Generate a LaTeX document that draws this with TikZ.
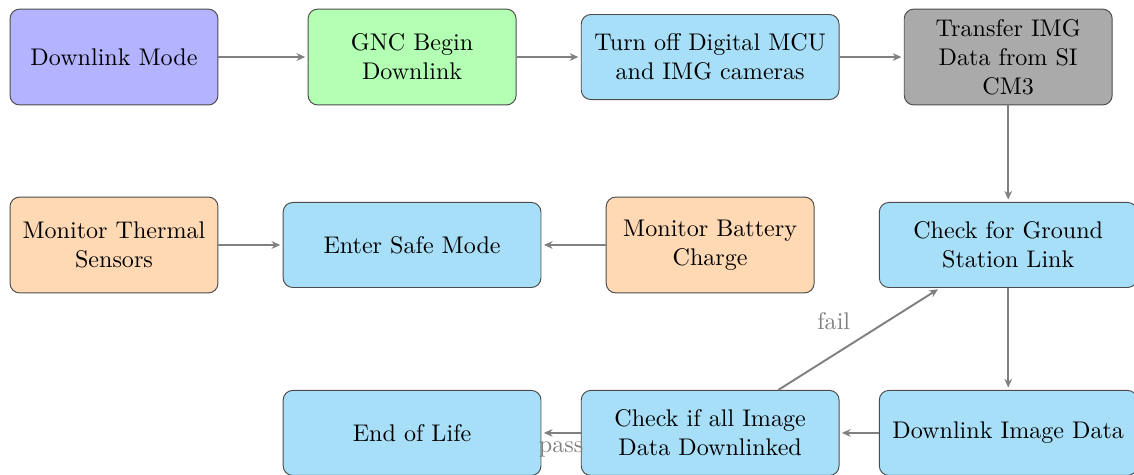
\documentclass[tikz,border=0pt]{standalone}
\usepackage{xcolor}
\usepackage{tikz}
\usetikzlibrary{positioning,arrows.meta}
\definecolor{modeblue}{RGB}{179,179,255}
\definecolor{gncgreen}{RGB}{179,255,179}
\definecolor{stepcyan}{RGB}{168,223,248}
\definecolor{xfergray}{RGB}{170,170,170}
\definecolor{monpeach}{RGB}{255,217,179}
\tikzset{
  sqbox/.style  = {draw=black!70, rounded corners, align=center, minimum width=86.3pt, minimum height=39.8pt, inner sep=3pt},
  widebox/.style = {draw=black!70, rounded corners, align=center, minimum width=107pt, minimum height=35.3pt, inner sep=3pt, fill=stepcyan},
  flow/.style   = {-{Stealth[length=3.6pt, width=3.2pt]}, thick, draw=gray, shorten >=1pt},
  tag/.style    = {text=gray},
}
\begin{document}
\begin{tikzpicture}[node distance=78pt and 123.7pt, on grid]
  \useasboundingbox (-47.31pt,-173.06pt) rectangle (423.3pt,23.66pt);
  % top row
  \node[sqbox, fill=modeblue] (dlmode) {Downlink Mode};
  \node[sqbox, fill=gncgreen, right=of dlmode] (gnc) {GNC Begin\\ Downlink};
  \node[widebox, right=of gnc] (mcuoff) {Turn off Digital MCU\\ and IMG cameras};
  \node[sqbox, fill=xfergray, right=of mcuoff] (xfer) {Transfer IMG\\ Data from SI\\ CM3};
  % middle row
  \node[sqbox, fill=monpeach, below=of dlmode] (therm) {Monitor Thermal\\ Sensors};
  \node[widebox, right=of therm] (safe) {Enter Safe Mode};
  \node[sqbox, fill=monpeach, right=of safe] (batt) {Monitor Battery\\ Charge};
  \node[widebox, below=of xfer] (gslink) {Check for Ground\\ Station Link};
  % bottom row
  \node[widebox, below=of safe] (eol) {End of Life};
  \node[widebox, right=of eol] (imgchk) {Check if all Image\\ Data Downlinked};
  \node[widebox, right=of imgchk] (dlimg) {Downlink Image Data};
  % arrows
  \draw[flow] (dlmode) -- (gnc);
  \draw[flow] (gnc) -- (mcuoff);
  \draw[flow] (mcuoff) -- (xfer);
  \draw[flow] (xfer) -- (gslink);
  \draw[flow] (gslink) -- (dlimg);
  \draw[flow] (dlimg) -- (imgchk);
  \draw[flow] (imgchk) -- node[tag, below]{pass} (eol);
  \draw[flow] (imgchk) -- node[tag, above left]{fail} (gslink);
  \draw[flow] (therm) -- (safe);
  \draw[flow] (batt) -- (safe);
\end{tikzpicture}
\end{document}
